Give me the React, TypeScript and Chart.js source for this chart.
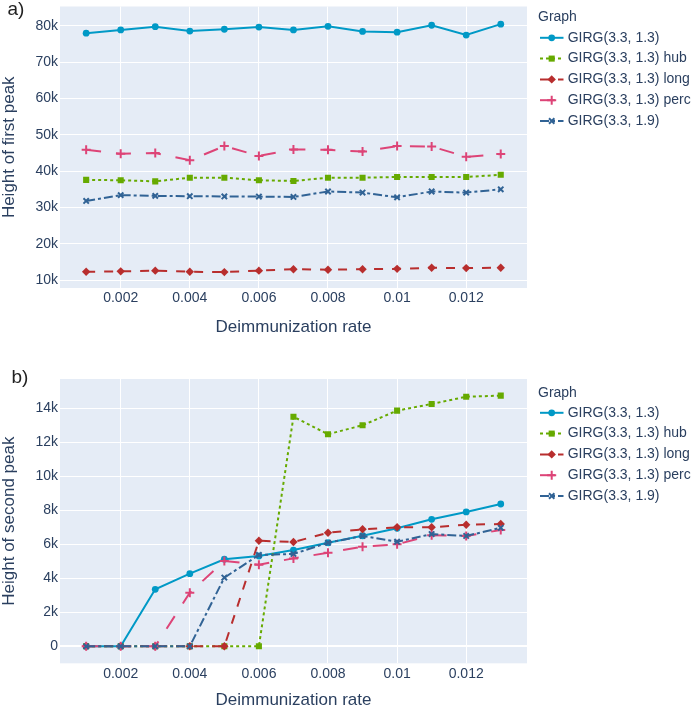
import React, { useEffect, useRef } from 'react';
import { Chart, registerables } from 'chart.js';
import { drawPoint } from 'chart.js/helpers';

Chart.register(...registerables);

const FONT = '"Liberation Sans", Arial, Helvetica, sans-serif';
const TEXT = '#2a3f5f';
const PLOT_BG = '#E5ECF6';

// ---------- data ----------
const rates = [0.001, 0.002, 0.003, 0.004, 0.005, 0.006, 0.007, 0.008, 0.009, 0.01, 0.011, 0.012, 0.013];
const xTicks = [0.002, 0.004, 0.006, 0.008, 0.01, 0.012];
const xTickLabels = ['0.002', '0.004', '0.006', '0.008', '0.01', '0.012'];
const xTitle = 'Deimmunization rate';
const legendTitle = 'Graph';

const seriesNames = [
  'GIRG(3.3, 1.3)',
  'GIRG(3.3, 1.3) hub',
  'GIRG(3.3, 1.3) long',
  'GIRG(3.3, 1.3) perc',
  'GIRG(3.3, 1.9)',
];

// a) Height of first peak
const firstGirg13 = [78000, 78900, 79800, 78600, 79100, 79700, 78900, 79900, 78500, 78300, 80200, 77500, 80500];
const firstHub = [37600, 37500, 37200, 38200, 38200, 37500, 37300, 38200, 38200, 38400, 38400, 38400, 39000];
const firstLong = [12300, 12400, 12600, 12300, 12200, 12600, 13000, 12850, 13000, 13100, 13400, 13300, 13400];
const firstPerc = [45900, 44800, 45000, 43000, 46900, 44200, 46000, 45900, 45400, 46900, 46800, 43950, 44700];
const firstGirg19 = [31800, 33400, 33200, 33100, 33050, 33000, 32900, 34400, 34100, 32800, 34400, 34100, 35000];
const firstYTicks = [10000, 20000, 30000, 40000, 50000, 60000, 70000, 80000];

// b) Height of second peak
const secondGirg13 = [0, 0, 3350, 4270, 5120, 5310, 5660, 6090, 6500, 6940, 7470, 7900, 8370];
const secondHub = [0, 0, 0, 0, 0, 0, 13500, 12470, 13000, 13860, 14250, 14680, 14740];
const secondLong = [0, 0, 0, 0, 0, 6210, 6130, 6680, 6880, 7000, 7000, 7150, 7190];
const secondPerc = [0, 0, 0, 3150, 5020, 4800, 5170, 5500, 5860, 6000, 6530, 6490, 6840];
const secondGirg19 = [0, 0, 0, 0, 4040, 5370, 5430, 6090, 6490, 6150, 6600, 6490, 6970];
const secondYTicks = [0, 2000, 4000, 6000, 8000, 10000, 12000, 14000];

// ---------- styles ----------
const seriesStyles = [
  { color: '#0099C6', dash: [] as number[], point: 'circle', radius: 3.4, bw: 0 },
  { color: '#66AA00', dash: [3, 3], point: 'rect', radius: 4.3, bw: 0 },
  { color: '#B82E2E', dash: [9, 9], point: 'rectRot', radius: 4.2, bw: 0 },
  { color: '#DD4477', dash: [15, 15], point: 'cross', radius: 4.5, bw: 2 },
  { color: '#316395', dash: [9, 3, 3, 3], point: 'crossRot', radius: 3.8, bw: 2 },
];

const X_MIN = 0.000243;
const X_MAX = 0.01376;
const PLOT_LEFT = 60;
const PLOT_RIGHT = 527;

type PanelCfg = {
  top: number;
  height: number;
  plotTop: number;
  plotBottom: number;
  yMin: number;
  yMax: number;
  yTicks: number[];
  yTitle: string;
  label: string;
  labelX: number;
  labelBaseline: number;
  xTitleBaseline: number;
  legendTitleY: number;
  legendY0: number;
  values: number[][];
};

function fmtK(v: number): string {
  return v === 0 ? '0' : `${v / 1000}k`;
}

function makeDecor(cfg: PanelCfg) {
  return {
    id: 'decor',
    beforeDraw(chart: any) {
      const { ctx, chartArea } = chart;
      ctx.save();
      ctx.fillStyle = PLOT_BG;
      ctx.fillRect(chartArea.left, chartArea.top, chartArea.right - chartArea.left, chartArea.bottom - chartArea.top);
      ctx.restore();
    },
    afterDraw(chart: any) {
      const { ctx, chartArea } = chart;
      ctx.save();
      // x title
      ctx.fillStyle = TEXT;
      ctx.font = `17px ${FONT}`;
      ctx.textAlign = 'center';
      ctx.textBaseline = 'alphabetic';
      ctx.fillText(xTitle, (chartArea.left + chartArea.right) / 2, cfg.xTitleBaseline);
      // y title
      ctx.save();
      ctx.translate(13.5, (chartArea.top + chartArea.bottom) / 2);
      ctx.rotate(-Math.PI / 2);
      ctx.fillText(cfg.yTitle, 0, 0);
      ctx.restore();
      // panel label
      ctx.fillStyle = '#222';
      ctx.font = `19px ${FONT}`;
      ctx.textAlign = 'left';
      ctx.fillText(cfg.label, cfg.labelX, cfg.labelBaseline);
      // legend
      ctx.fillStyle = TEXT;
      ctx.font = `14px ${FONT}`;
      ctx.textBaseline = 'middle';
      ctx.fillText(legendTitle, 538, cfg.legendTitleY);
      seriesNames.forEach((name, i) => {
        const s = seriesStyles[i];
        const y = cfg.legendY0 + i * 20.8;
        ctx.save();
        ctx.strokeStyle = s.color;
        ctx.lineWidth = 2;
        ctx.setLineDash(s.dash);
        ctx.beginPath();
        ctx.moveTo(540, y);
        ctx.lineTo(563.5, y);
        ctx.stroke();
        ctx.setLineDash([]);
        ctx.fillStyle = s.color;
        ctx.strokeStyle = s.color;
        drawPoint(ctx, { pointStyle: s.point as any, radius: s.radius, borderWidth: s.bw, rotation: 0 } as any, 551.7, y);
        ctx.restore();
        ctx.fillStyle = TEXT;
        ctx.fillText(name, 567.7, y);
      });
      ctx.restore();
    },
  };
}

function Panel({ cfg }: { cfg: PanelCfg }) {
  const ref = useRef<HTMLCanvasElement>(null);
  useEffect(() => {
    const canvas = ref.current!;
    const datasets = cfg.values.map((vals, i) => {
      const s = seriesStyles[i];
      return {
        label: seriesNames[i],
        data: rates.map((x, j) => ({ x, y: vals[j] })),
        borderColor: s.color,
        backgroundColor: s.color,
        borderWidth: 2,
        borderDash: s.dash,
        pointStyle: s.point,
        pointRadius: s.radius,
        pointBorderWidth: s.bw,
        pointBackgroundColor: s.color,
        pointBorderColor: s.color,
        tension: 0,
        order: seriesStyles.length - i,
      };
    });
    const chart = new Chart(canvas, {
      type: 'line',
      data: { datasets } as any,
      options: {
        responsive: false,
        maintainAspectRatio: false,
        animation: false,
        layout: { padding: { top: cfg.plotTop, right: 700 - PLOT_RIGHT, left: 0, bottom: 0 } },
        plugins: { legend: { display: false }, tooltip: { enabled: false } },
        scales: {
          x: {
            type: 'linear',
            min: X_MIN,
            max: X_MAX,
            afterBuildTicks: (s: any) => {
              s.ticks = xTicks.map((v) => ({ value: v }));
            },
            afterFit: (s: any) => {
              s.height = cfg.height - cfg.plotBottom;
              s.paddingLeft = 0;
              s.paddingRight = 0;
            },
            grid: { color: '#ffffff', lineWidth: 1, drawTicks: false },
            border: { display: false },
            ticks: {
              padding: 2,
              color: TEXT,
              font: { family: FONT, size: 14 },
              maxRotation: 0,
              autoSkip: false,
              callback: (v: any) => xTickLabels[xTicks.indexOf(Number(v))] ?? '',
            },
          },
          y: {
            type: 'linear',
            min: cfg.yMin,
            max: cfg.yMax,
            afterBuildTicks: (s: any) => {
              s.ticks = cfg.yTicks.map((v) => ({ value: v }));
            },
            afterFit: (s: any) => {
              s.width = PLOT_LEFT;
              s.paddingTop = 0;
              s.paddingBottom = 0;
            },
            grid: {
              color: '#ffffff',
              lineWidth: (c: any) => (c.tick && c.tick.value === 0 ? 2 : 1),
              drawTicks: false,
            },
            border: { display: false },
            ticks: {
              padding: 2,
              color: TEXT,
              font: { family: FONT, size: 14 },
              autoSkip: false,
              callback: (v: any) => fmtK(Number(v)),
            },
          },
        },
      } as any,
      plugins: [makeDecor(cfg)],
    });
    return () => chart.destroy();
  }, [cfg]);
  return (
    <canvas
      ref={ref}
      width={700}
      height={cfg.height}
      style={{ position: 'absolute', left: 0, top: cfg.top, width: 700, height: cfg.height, display: 'block' }}
    />
  );
}

const panelA: PanelCfg = {
  top: 0,
  height: 350,
  plotTop: 3,
  plotBottom: 288,
  yMin: 7820,
  yMax: 85360,
  yTicks: firstYTicks,
  yTitle: 'Height of first peak',
  label: 'a)',
  labelX: 7.5,
  labelBaseline: 15,
  xTitleBaseline: 331.5,
  legendTitleY: 17,
  legendY0: 37.8,
  values: [firstGirg13, firstHub, firstLong, firstPerc, firstGirg19],
};

const panelB: PanelCfg = {
  top: 350,
  height: 356,
  plotTop: 29,
  plotBottom: 313.3,
  yMin: -1000,
  yMax: 15720,
  yTicks: secondYTicks,
  yTitle: 'Height of second peak',
  label: 'b)',
  labelX: 11.5,
  labelBaseline: 32.5,
  xTitleBaseline: 355,
  legendTitleY: 43,
  legendY0: 62.8,
  values: [secondGirg13, secondHub, secondLong, secondPerc, secondGirg19],
};

export default function App() {
  return (
    <div style={{ position: 'absolute', left: 0, top: 0, width: 700, height: 706, overflow: 'hidden', background: '#fff' }}>
      <Panel cfg={panelA} />
      <Panel cfg={panelB} />
    </div>
  );
}
